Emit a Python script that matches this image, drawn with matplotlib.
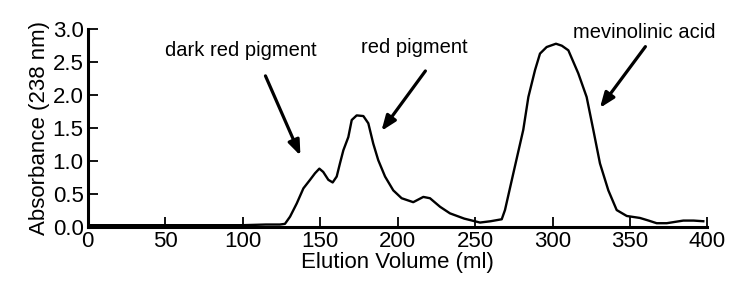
import numpy as np
import matplotlib.pyplot as plt

plt.rcParams['font.family'] = ['Liberation Sans', 'DejaVu Sans']

# elution profile
volume = [0, 20, 50, 80, 100, 115, 124, 127.3, 130.6, 134.9, 139.2, 143.5, 146.7,
          149.5, 152, 155.3, 158.1, 160.7, 162.8, 165, 168.2, 170.4, 173.6, 177.9,
          181.1, 184.3, 187.5, 191.9, 197.2, 202.6, 210.1, 216.6, 220.9, 227.4,
          233.8, 243, 253.2, 260, 267.2, 269.3, 274.7, 281.1, 284.4, 288.7, 291.9,
          296.2, 302.2, 306, 310.2, 316.6, 322, 326.3, 330.6, 336, 341.4, 347.9,
          356.4, 362, 367.2, 373.7, 379, 384.4, 391, 397.3]
absorbance = [0.02, 0.02, 0.02, 0.02, 0.02, 0.03, 0.03, 0.04, 0.15, 0.35, 0.58, 0.71,
              0.81, 0.88, 0.83, 0.71, 0.67, 0.76, 0.96, 1.16, 1.36, 1.62, 1.69, 1.68,
              1.57, 1.26, 1.01, 0.76, 0.55, 0.43, 0.37, 0.45, 0.43, 0.30, 0.20, 0.12,
              0.06, 0.08, 0.11, 0.25, 0.81, 1.47, 1.97, 2.38, 2.63, 2.73, 2.78, 2.75,
              2.68, 2.33, 1.97, 1.47, 0.96, 0.55, 0.25, 0.16, 0.13, 0.09, 0.05, 0.05,
              0.07, 0.09, 0.09, 0.08]

xticks = [0, 50, 100, 150, 200, 250, 300, 350, 400]
yticks = [0.0, 0.5, 1.0, 1.5, 2.0, 2.5, 3.0]

labels = ['dark red pigment', 'red pigment', 'mevinolinic acid']
label_xy = [(99, 2.68), (211, 2.72), (359, 2.95)]
arrow_tail = [(114, 2.33), (219, 2.40), (361, 2.77)]
arrow_head = [(138, 1.04), (188.5, 1.42), (329.5, 1.77)]

fig = plt.figure(figsize=(7.29, 2.87), dpi=100)
ax = fig.add_axes([0.1203, 0.2108, 0.8502, 0.6872])

ax.plot(volume, absorbance, color='black', lw=1.7)

ax.set_xlim(0, 400)
ax.set_ylim(0, 3.0)
ax.set_xticks(xticks)
ax.set_yticks(yticks)
ax.set_yticklabels([f'{v:.1f}' for v in yticks])
ax.tick_params(direction='in', length=7, width=1.3, labelsize=16, pad=3)

for side in ['top', 'right']:
    ax.spines[side].set_visible(False)
for side in ['left', 'bottom']:
    ax.spines[side].set_linewidth(2.2)

ax.set_xlabel('Elution Volume (ml)', fontsize=16, labelpad=0)
ax.set_ylabel('Absorbance (238 nm)', fontsize=16, labelpad=2)

for lab, xy in zip(labels, label_xy):
    ax.text(xy[0], xy[1], lab, fontsize=14.5, ha='center', va='center')
for tail, head in zip(arrow_tail, arrow_head):
    ax.annotate('', xy=head, xytext=tail,
                arrowprops=dict(arrowstyle='-|>,head_length=0.9,head_width=0.35',
                                color='black', lw=2.3))

fig.savefig('out.png', dpi=100)
